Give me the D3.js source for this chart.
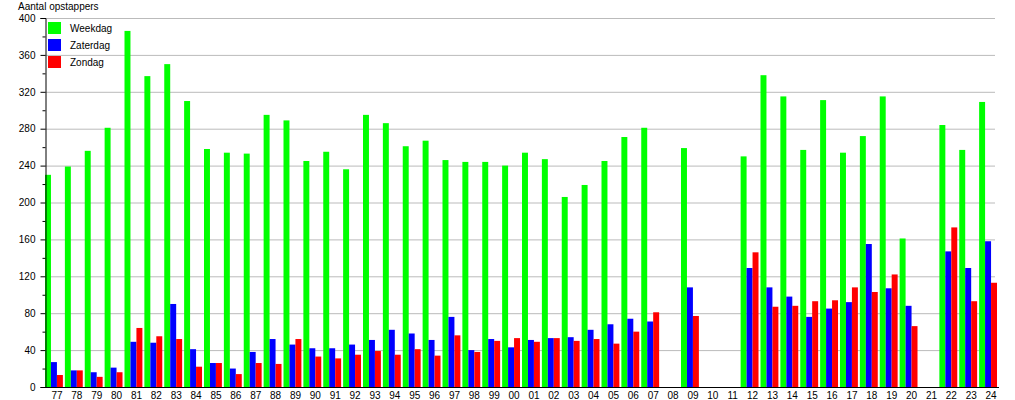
<!DOCTYPE html>
<html><head><meta charset="utf-8">
<script src="https://cdn.jsdelivr.net/npm/d3@7"></script>
<style>
body{margin:0;background:#fff;}
text{font-family:"Liberation Sans",Arial,sans-serif;}
</style></head>
<body><svg id="c" width="1015" height="400"></svg>
<script>
const categories = ["77","78","79","80","81","82","83","84","85","86","87","88","89","90","91","92","93","94","95","96","97","98","99","00","01","02","03","04","05","06","07","08","09","10","11","12","13","14","15","16","17","18","19","20","21","22","23","24"];
const weekdag = [230,239,256,281,386,337,350,310,258,254,253,295,289,245,255,236,295,286,261,267,246,244,244,240,254,247,206,219,245,271,281,0,259,0,0,250,338,315,257,311,254,272,315,161,0,284,257,309];
const zaterdag = [27,18,16,21,49,48,90,41,26,20,38,52,46,42,42,46,51,62,58,51,76,40,52,43,51,53,54,62,68,74,71,0,108,0,0,129,108,98,76,85,92,155,107,88,0,147,129,158];
const zondag = [13,18,11,16,64,55,52,22,26,14,26,25,52,33,31,35,39,35,41,34,56,38,50,53,49,53,50,52,47,60,81,0,77,0,0,146,87,88,93,94,108,103,122,66,0,173,93,113];
const seriesNames = ["Weekdag","Zaterdag","Zondag"];
const seriesColors = ["#00ff00","#0000ff","#ff0000"];
const yTicks = [0,40,80,120,160,200,240,280,320,360,400];
const yTitle = "Aantal opstappers";

(function(){
const svg = d3.select("#c");
const mLeft = 45, mRight = 999, mTop = 18, mBottom = 387, gridRight = 995;
const fs = 10;
const x = d3.scaleBand().domain(categories).range([mLeft, mRight]).padding(0);
const y = d3.scaleLinear().domain([0,400]).range([mBottom, mTop]);

// gridlines
svg.append("g").selectAll("line").data(yTicks.filter(v=>v>0)).join("line")
  .attr("x1", mLeft).attr("x2", gridRight)
  .attr("y1", d=>y(d)+0.5).attr("y2", d=>y(d)+0.5)
  .attr("stroke", "#bbbbbb").attr("stroke-width", 1);

// bars
const series = [weekdag, zaterdag, zondag];
const bw = x.bandwidth()*0.3;
series.forEach((vals, si) => {
  svg.append("g").selectAll("rect").data(categories).join("rect")
    .attr("x", (d)=>x(d) + si*bw)
    .attr("width", bw)
    .attr("y", (d,i)=>y(vals[i]))
    .attr("height", (d,i)=>y(0)-y(vals[i]))
    .attr("fill", seriesColors[si]);
});

// y axis
const yAxis = d3.axisLeft(y).tickValues(yTicks).tickSize(5).tickPadding(5);
const gy = svg.append("g").attr("transform", `translate(${mLeft+0.5},0)`).call(yAxis);
gy.select(".domain").attr("stroke","#000");
gy.selectAll("text").attr("font-size", fs).attr("fill","#000").attr("font-family","Liberation Sans, Arial, sans-serif");
const minor = d3.range(20, 400, 40);
gy.append("g").selectAll("line").data(minor).join("line")
  .attr("x1", -3).attr("x2", 0).attr("y1", d=>y(d)+0.5).attr("y2", d=>y(d)+0.5).attr("stroke","#000");

// x axis
const xAxis = d3.axisBottom(x).tickSize(0).tickPadding(4).tickSizeOuter(0);
const gx = svg.append("g").attr("transform", `translate(2,${mBottom+0.5})`).call(xAxis);
gx.select(".domain").attr("stroke","#000").attr("d", `M${mLeft-2},0H${mRight-2}`);
gx.selectAll("text").attr("font-size", fs).attr("fill","#000").attr("font-family","Liberation Sans, Arial, sans-serif");

// title
svg.append("text").attr("x", 18).attr("y", 10).attr("font-size", fs).text(yTitle);

// legend
const lg = svg.append("g");
seriesNames.forEach((n,i)=>{
  lg.append("rect").attr("x",48).attr("y",22+i*17).attr("width",13).attr("height",12).attr("fill",seriesColors[i]);
  lg.append("text").attr("x",70).attr("y",32+i*17).attr("font-size",fs).text(n);
});
})();
</script></body></html>
